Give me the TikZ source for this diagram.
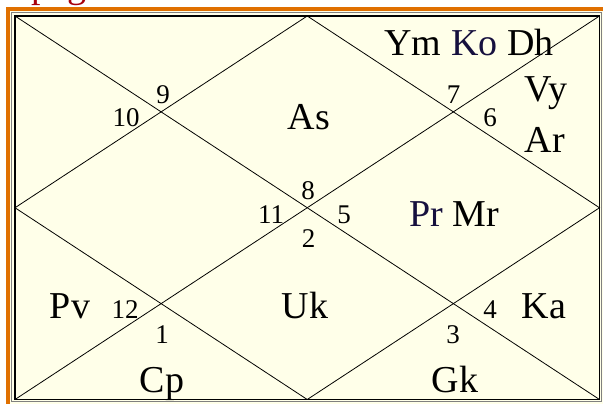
\documentclass[tikz,border=0pt]{standalone}
\usepackage{fontspec}
\setmainfont{Liberation Serif}
\usepackage{tikz}
\definecolor{chartbg}{HTML}{FFFFE9}
\definecolor{frameorange}{HTML}{E07000}
\definecolor{titlered}{HTML}{A8000C}
\definecolor{navy}{HTML}{16103E}
\tikzset{
  planet/.style={anchor=base, inner sep=0pt, font=\fontsize{38}{38}\selectfont},
  house/.style={anchor=base, inner sep=0pt, font=\fontsize{27}{27}\selectfont},
  rule/.style={line width=0.8pt}
}
\begin{document}
\begin{tikzpicture}[x=1pt,y=-1pt]
    \useasboundingbox (0,0) rectangle (603,404);
    \fill[white] (0,0) rectangle (603,404);
    \fill[chartbg] (10,11) rectangle (603,404);
    \node[anchor=base west, inner sep=0pt, text=titlered, font=\fontsize{38}{38}\selectfont] (title) at (31,-2) {pag};
    \draw[frameorange, line width=4.5pt] (8,410) -- (8,9) -- (610,9);
    \draw[gray, line width=1pt] (11.5,12.5) rectangle (601.5,401.5);
    \draw[black, line width=1.2pt] (15,16) rectangle (599.5,399.5);
    \coordinate (tl) at (15,16);
    \coordinate (tr) at (599.5,16);
    \coordinate (bl) at (15,399.5);
    \coordinate (br) at (599.5,399.5);
    \coordinate (top) at (307.25,16);
    \coordinate (rt) at (599.5,207.75);
    \coordinate (bot) at (307.25,399.5);
    \coordinate (lt) at (15,207.75);
    \draw [rule] (tl) -- (br);
    \draw [rule] (bl) -- (tr);
    \draw [rule] (top) -- (rt) -- (bot) -- (lt) -- cycle;
    % house numbers
    \node[house] (h1) at (162,343) {1};
    \node[house] (h2) at (308.5,247) {2};
    \node[house] (h3) at (453,343) {3};
    \node[house] (h4) at (490,318) {4};
    \node[house] (h5) at (344,223) {5};
    \node[house] (h6) at (490,127) {6};
    \node[house] (h7) at (453.5,103) {7};
    \node[house] (h8) at (308,199) {8};
    \node[house] (h9) at (163,103) {9};
    \node[house] (h10) at (126,127) {10};
    \node[house] (h11) at (271,223) {11};
    \node[house] (h12) at (125,318) {12};
    % planets
    \node[planet] (as) at (309,129) {As};
    \node[planet] (ymkodh) at (469,56) {Ym \textcolor{navy}{Ko} Dh};
    \node[planet] (vy) at (546,102) {Vy};
    \node[planet] (ar) at (545,153) {Ar};
    \node[planet] (prmr) at (454,226) {\textcolor{navy}{Pr} Mr};
    \node[planet] (pv) at (70,318) {Pv};
    \node[planet] (uk) at (305,318) {Uk};
    \node[planet] (ka) at (544,318) {Ka};
    \node[planet] (cp) at (162,392) {Cp};
    \node[planet] (gk) at (455,392) {Gk};
\end{tikzpicture}
\end{document}
